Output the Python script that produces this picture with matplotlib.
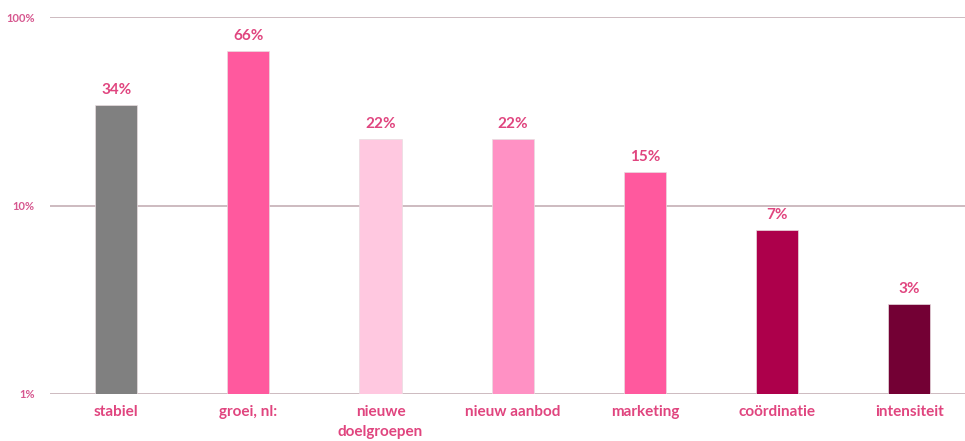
import matplotlib
matplotlib.use("Agg")
import matplotlib.pyplot as plt
from matplotlib.ticker import FixedLocator, NullLocator

categories = ["stabiel", "groei, nl:", "nieuwe\ndoelgroepen", "nieuw aanbod", "marketing", "coördinatie", "intensiteit"]
values = [34, 66, 22.4, 22.4, 15, 7.4, 3]
labels = ["34%", "66%", "22%", "22%", "15%", "7%", "3%"]
colors = ["#808080", "#FF599E", "#FFC8E0", "#FF91C4", "#FF599E", "#AD004B", "#730034"]
yticks = [1, 10, 100]
yticklabels = ["1%", "10%", "100%"]

W, H = 965, 441
fig = plt.figure(figsize=(W/100, H/100), dpi=100)
left, right, top, bottom = 50, 965, 17, 394
ax = fig.add_axes([left/W, 1 - bottom/H, (right-left)/W, (bottom-top)/H])

x = list(range(len(categories)))
ax.bar(x, values, width=0.32, color=colors, edgecolor="#e8dde0", linewidth=0.5, zorder=3)
ax.set_yscale("log")
ax.set_ylim(1, 100)
ax.set_xlim(-0.5, -0.5 + (right-left)/132.2)

ax.yaxis.set_major_locator(FixedLocator(yticks))
ax.yaxis.set_minor_locator(NullLocator())
ax.set_yticklabels(yticklabels, fontsize=8, color="#D6578F", fontfamily="Lato", fontweight="bold")
ax.tick_params(axis="y", length=0, pad=11)
ax.set_xticks(x)
ax.set_xticklabels(categories, fontsize=11, color="#E0457F", fontfamily="Lato", fontweight="bold", linespacing=1.55)
ax.tick_params(axis="x", length=0, pad=8)

ax.grid(axis="y", color="#C9B5BB", linewidth=1.3, zorder=0)
for s in ax.spines.values():
    s.set_visible(False)

for xi, v, lab in zip(x, values, labels):
    ax.annotate(lab, (xi, v), xytext=(0, 6), textcoords="offset points",
                ha="center", va="bottom", fontsize=11, color="#E0457F",
                fontfamily="Lato", fontweight="bold")

fig.savefig("out.png", dpi=100)
